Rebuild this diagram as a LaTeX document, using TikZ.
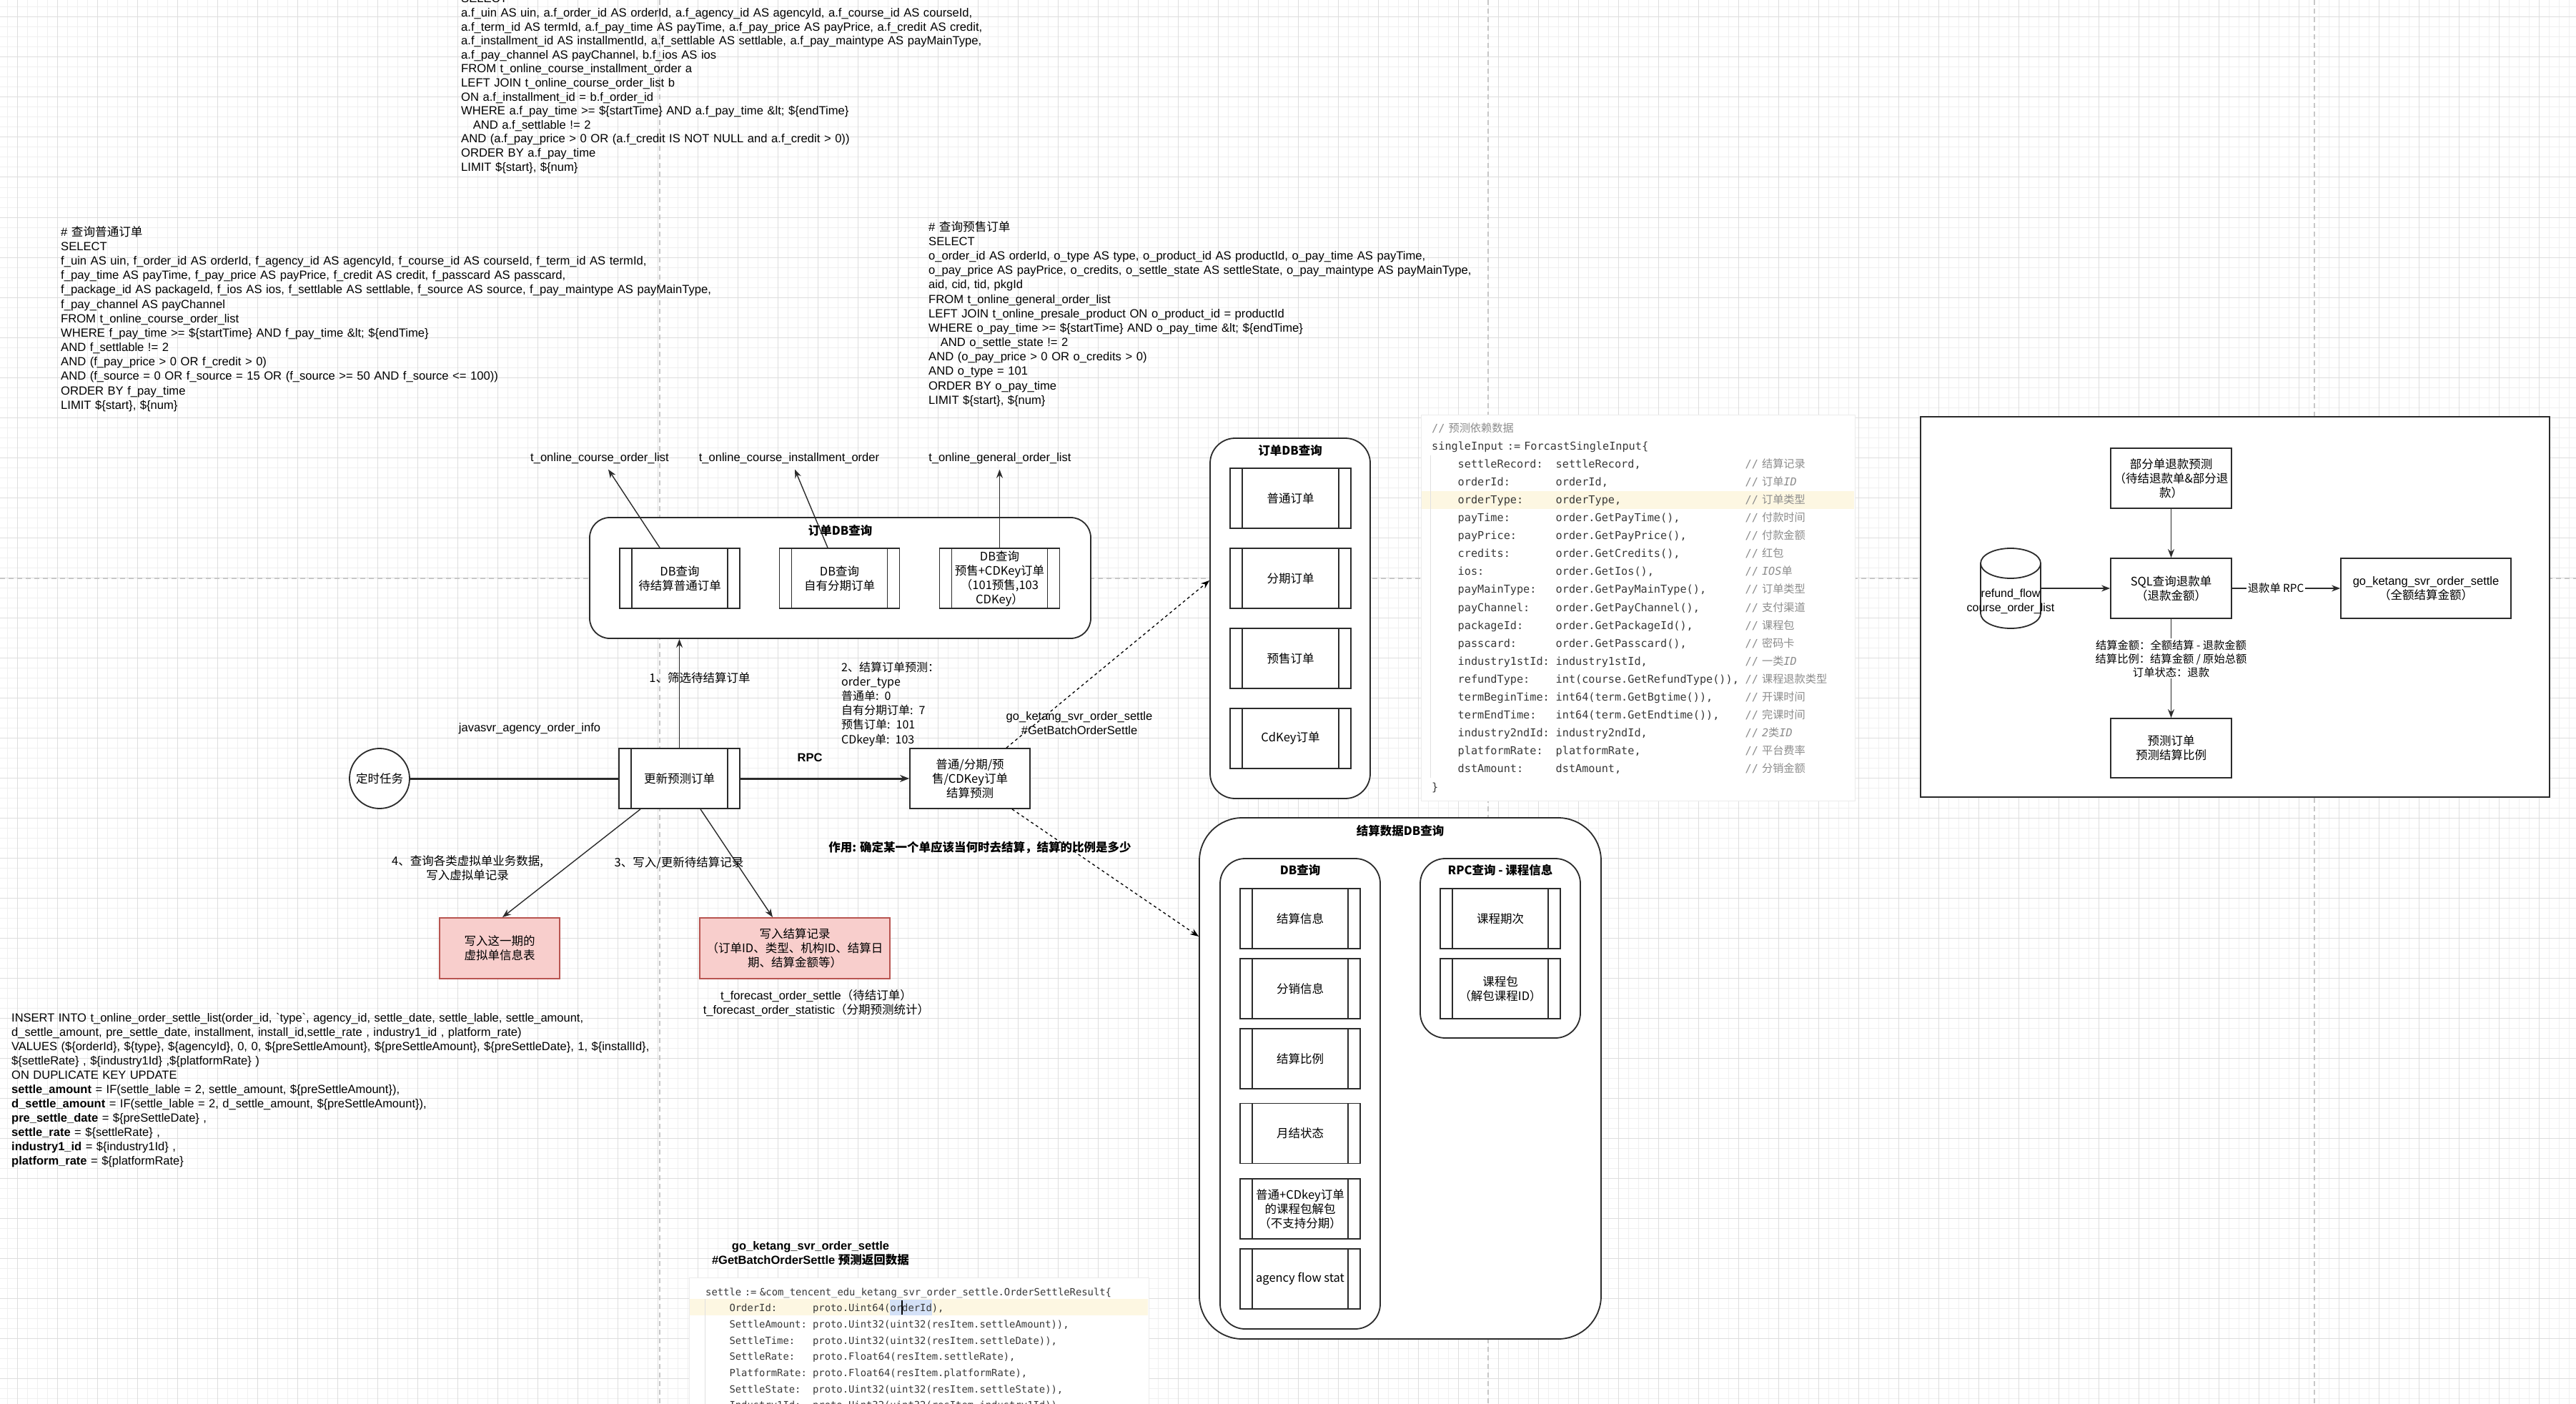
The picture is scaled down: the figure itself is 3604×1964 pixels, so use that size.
\documentclass[tikz,border=0pt]{standalone}
\usepackage{fontspec}
\setmainfont{Liberation Sans}
\setmonofont{DejaVu Sans Mono}
\newfontfamily\cjk{Noto Sans CJK SC}
\usepackage{tikz}
\usetikzlibrary{arrows.meta,positioning,calc}
\definecolor{linec}{HTML}{2B2B2B}
\definecolor{gridmin}{HTML}{F0F0F0}
\definecolor{gridmaj}{HTML}{DEDEDE}
\definecolor{pinkfill}{HTML}{F8CECC}
\definecolor{pinkline}{HTML}{B85450}
\definecolor{codetext}{HTML}{383838}
\definecolor{codecmt}{HTML}{8C8C8C}
\definecolor{codehl}{HTML}{FDF7E2}
\definecolor{codesel}{HTML}{D4E1F7}
\newcommand\zh[1]{{\cjk #1}}
\newcommand\cmt[1]{{\color{codecmt}// #1}}
\newcommand\kvline[3]{\hspace*{36.5pt}\makebox[137pt][l]{#1}\makebox[265pt][l]{#2}\cmt{#3}}
\newcommand\goline[2]{\hspace*{33.3pt}\makebox[116.6pt][l]{#1}#2}
\tikzset{
  gridminor/.style={draw=gridmin, line width=1pt},
  gridmajor/.style={draw=gridmaj, line width=1pt},
  pgbreak/.style={draw=black!22, line width=1.6pt, dash pattern=on 7pt off 5pt},
  zhtxt/.style={font=\cjk\fontsize{16.5}{20}\selectfont, align=center, inner sep=0pt},
  zhbold/.style={font=\cjk\bfseries\fontsize{16.5}{20}\selectfont, align=center, inner sep=0pt},
  lattxt/.style={font=\fontsize{16.5}{20}\selectfont, align=center, inner sep=0pt},
  tblname/.style={lattxt, outer sep=8pt},
  sqlblock/.style={font=\fontsize{16.6}{20.2}\selectfont, text width=1000pt, align=left, inner sep=0pt, anchor=base west},
  zhblock/.style={font=\cjk\fontsize{16}{20.2}\selectfont, text width=300pt, align=left, inner sep=0pt, anchor=base west},
  codeblock/.style={font=\ttfamily\fontsize{15.2}{25.1}\selectfont, text=codetext, text width=640pt, align=left, inner sep=0pt, anchor=base west},
  codebg/.style={fill=white, draw=black!8, line width=1pt},
  boxline/.style={draw=linec, line width=1.8pt},
  plainbox/.style={boxline, fill=white, minimum width=169pt, minimum height=84pt, zhtxt},
  procbox/.style={plainbox, minimum width=168pt,
    path picture={\draw[boxline] ([xshift=17pt]path picture bounding box.north west) -- ([xshift=17pt]path picture bounding box.south west)
      ([xshift=-17pt]path picture bounding box.north east) -- ([xshift=-17pt]path picture bounding box.south east);}},
  pinkbox/.style={plainbox, fill=pinkfill, draw=pinkline},
  groupbox/.style={boxline, fill=white, rounded corners=35pt, inner sep=0pt},
  arr/.style={draw=linec, line width=1.4pt, -{Stealth[length=12pt,width=9pt]}},
  thickln/.style={draw=linec, line width=3pt},
  dasharr/.style={draw=black, line width=1.3pt, dash pattern=on 4pt off 4pt, -{Stealth[length=12pt,width=9pt]}},
  edgelbl/.style={fill=white, inner sep=2pt, font=\cjk\fontsize{15.3}{19}\selectfont, align=center},
}
\begin{document}
\begin{tikzpicture}[x=1pt, y=-1pt]
\fill[white] (0,0) rectangle (3604,1964);
\useasboundingbox (0,0) rectangle (3604,1964);
% grid and page breaks
\foreach \g in {10,24,...,3604} \draw[gridminor] (\g,0) -- (\g,1964);
\foreach \g in {10,24,...,1964} \draw[gridminor] (0,\g) -- (3604,\g);
\foreach \g in {24,80,...,3604} \draw[gridmajor] (\g,0) -- (\g,1964);
\foreach \g in {24,80,...,1964} \draw[gridmajor] (0,\g) -- (3604,\g);
\foreach \g in {923,2082,3238} \draw[pgbreak] (\g,0) -- (\g,1964);
\draw[pgbreak] (0,809) -- (3604,809);

% sql texts
\node[sqlblock, font=\fontsize{16.6}{19.6}\selectfont] (sqlinst) at (645,4) {SELECT\\
a.f\_uin AS uin, a.f\_order\_id AS orderId, a.f\_agency\_id AS agencyId, a.f\_course\_id AS courseId,\\
a.f\_term\_id AS termId, a.f\_pay\_time AS payTime, a.f\_pay\_price AS payPrice, a.f\_credit AS credit,\\
a.f\_installment\_id AS installmentId, a.f\_settlable AS settlable, a.f\_pay\_maintype AS payMainType,\\
a.f\_pay\_channel AS payChannel, b.f\_ios AS ios\\
FROM t\_online\_course\_installment\_order a\\
LEFT JOIN t\_online\_course\_order\_list b\\
ON a.f\_installment\_id = b.f\_order\_id\\
WHERE a.f\_pay\_time >= \$\{startTime\} AND a.f\_pay\_time \&lt; \$\{endTime\}\\
\hspace*{1em}AND a.f\_settlable != 2\\
AND (a.f\_pay\_price > 0 OR (a.f\_credit IS NOT NULL and a.f\_credit > 0))\\
ORDER BY a.f\_pay\_time\\
LIMIT \$\{start\}, \$\{num\}};

\node[sqlblock] (sqlnorm) at (85,330) {\# \zh{查询普通订单}\\
SELECT\\
f\_uin AS uin, f\_order\_id AS orderId, f\_agency\_id AS agencyId, f\_course\_id AS courseId, f\_term\_id AS termId,\\
f\_pay\_time AS payTime, f\_pay\_price AS payPrice, f\_credit AS credit, f\_passcard AS passcard,\\
f\_package\_id AS packageId, f\_ios AS ios, f\_settlable AS settlable, f\_source AS source, f\_pay\_maintype AS payMainType,\\
f\_pay\_channel AS payChannel\\
FROM t\_online\_course\_order\_list\\
WHERE f\_pay\_time >= \$\{startTime\} AND f\_pay\_time \&lt; \$\{endTime\}\\
AND f\_settlable != 2\\
AND (f\_pay\_price > 0 OR f\_credit > 0)\\
AND (f\_source = 0 OR f\_source = 15 OR (f\_source >= 50 AND f\_source <= 100))\\
ORDER BY f\_pay\_time\\
LIMIT \$\{start\}, \$\{num\}};

\node[sqlblock] (sqlpre) at (1299,323) {\# \zh{查询预售订单}\\
SELECT\\
o\_order\_id AS orderId, o\_type AS type, o\_product\_id AS productId, o\_pay\_time AS payTime,\\
o\_pay\_price AS payPrice, o\_credits, o\_settle\_state AS settleState, o\_pay\_maintype AS payMainType,\\
aid, cid, tid, pkgId\\
FROM t\_online\_general\_order\_list\\
LEFT JOIN t\_online\_presale\_product ON o\_product\_id = productId\\
WHERE o\_pay\_time >= \$\{startTime\} AND o\_pay\_time \&lt; \$\{endTime\}\\
\hspace*{1em}AND o\_settle\_state != 2\\
AND (o\_pay\_price > 0 OR o\_credits > 0)\\
AND o\_type = 101\\
ORDER BY o\_pay\_time\\
LIMIT \$\{start\}, \$\{num\}};

\node[sqlblock, font=\fontsize{16.5}{20.05}\selectfont] (sqlins) at (16,1429) {INSERT INTO t\_online\_order\_settle\_list(order\_id, \textasciigrave type\textasciigrave, agency\_id, settle\_date, settle\_lable, settle\_amount,\\
d\_settle\_amount, pre\_settle\_date, installment, install\_id,settle\_rate , industry1\_id , platform\_rate)\\
VALUES (\$\{orderId\}, \$\{type\}, \$\{agencyId\}, 0, 0, \$\{preSettleAmount\}, \$\{preSettleAmount\}, \$\{preSettleDate\}, 1, \$\{installId\},\\
\$\{settleRate\} , \$\{industry1Id\} ,\$\{platformRate\} )\\
ON DUPLICATE KEY UPDATE\\
\textbf{settle\_amount} = IF(settle\_lable = 2, settle\_amount, \$\{preSettleAmount\}),\\
\textbf{d\_settle\_amount} = IF(settle\_lable = 2, d\_settle\_amount, \$\{preSettleAmount\}),\\
\textbf{pre\_settle\_date} = \$\{preSettleDate\} ,\\
\textbf{settle\_rate} = \$\{settleRate\} ,\\
\textbf{industry1\_id} = \$\{industry1Id\} ,\\
\textbf{platform\_rate} = \$\{platformRate\}};

% code snippets
\draw[codebg] (1988,580) rectangle (2595,1120);
\fill[codehl] (1989,687) rectangle (2594,712);
\draw[black!12, line width=1pt] (2001,637) -- (2001,1088);
\node[codeblock] (fcin) at (2003,604) {\cmt{\zh{预测依赖数据}}\\
singleInput := ForcastSingleInput\{\\
\kvline{settleRecord:}{settleRecord,}{\zh{结算记录}}\\
\kvline{orderId:}{orderId,}{\zh{订单}\textit{ID}}\\
\kvline{orderType:}{orderType,}{\zh{订单类型}}\\
\kvline{payTime:}{order.GetPayTime(),}{\zh{付款时间}}\\
\kvline{payPrice:}{order.GetPayPrice(),}{\zh{付款金额}}\\
\kvline{credits:}{order.GetCredits(),}{\zh{红包}}\\
\kvline{ios:}{order.GetIos(),}{\textit{IOS}\zh{单}}\\
\kvline{payMainType:}{order.GetPayMainType(),}{\zh{订单类型}}\\
\kvline{payChannel:}{order.GetPayChannel(),}{\zh{支付渠道}}\\
\kvline{packageId:}{order.GetPackageId(),}{\zh{课程包}}\\
\kvline{passcard:}{order.GetPasscard(),}{\zh{密码卡}}\\
\kvline{industry1stId:}{industry1stId,}{\zh{一类}\textit{ID}}\\
\kvline{refundType:}{int(course.GetRefundType()),}{\zh{课程退款类型}}\\
\kvline{termBeginTime:}{int64(term.GetBgtime()),}{\zh{开课时间}}\\
\kvline{termEndTime:}{int64(term.GetEndtime()),}{\zh{完课时间}}\\
\kvline{industry2ndId:}{industry2ndId,}{\textit{2}\zh{类}\textit{ID}}\\
\kvline{platformRate:}{platformRate,}{\zh{平台费率}}\\
\kvline{dstAmount:}{dstAmount,}{\zh{分销金额}}\\
\}};

\draw[codebg] (964,1787) rectangle (1607,1975);
\fill[codehl] (965,1817) rectangle (1606,1840);
\fill[codesel] (1245,1818) rectangle (1304,1840);
\draw[black!12, line width=1pt] (986,1817) -- (986,1964);
\node[codeblock, font=\ttfamily\fontsize{13.85}{22.7}\selectfont] (setres) at (987,1812) {settle := \&com\_tencent\_edu\_ketang\_svr\_order\_settle.OrderSettleResult\{\\
\goline{OrderId:}{proto.Uint64(orderId),}\\
\goline{SettleAmount:}{proto.Uint32(uint32(resItem.settleAmount)),}\\
\goline{SettleTime:}{proto.Uint32(uint32(resItem.settleDate)),}\\
\goline{SettleRate:}{proto.Float64(resItem.settleRate),}\\
\goline{PlatformRate:}{proto.Float64(resItem.platformRate),}\\
\goline{SettleState:}{proto.Uint32(uint32(resItem.settleState)),}\\
\goline{Industry1Id:}{proto.Uint32(uint32(resItem.industry1Id)),}};
\draw[line width=1.2pt] (1262,1819) -- (1262,1839);
\node[lattxt, font=\bfseries\fontsize{16.5}{20}\selectfont] (restitle) at (1134,1753) {go\_ketang\_svr\_order\_settle\\\#GetBatchOrderSettle \zh{预测返回数据}};

% order db query
\node[groupbox, rounded corners=28pt, minimum width=701pt, minimum height=169pt] (dbbox) at (1175.5,808.5) {};
\node[zhbold, below=11pt of dbbox.north] (dbtitle) {订单DB查询};
\node[procbox] (qry1) at (951,809) {DB查询\\待结算普通订单};
\node[procbox] (qry2) at (1174.5,809) {DB查询\\自有分期订单};
\node[procbox] (qry3) at (1398.5,809) {DB查询\\预售+CDKey订单\\（101预售,103\\CDKey）};
\node[tblname] (tab1) at (839,641) {t\_online\_course\_order\_list};
\node[tblname] (tab2) at (1104,641) {t\_online\_course\_installment\_order};
\node[tblname] (tab3) at (1399,641) {t\_online\_general\_order\_list};
\draw[arr] ([xshift=-28pt]qry1.north) -- ([xshift=12pt]tab1.south);
\draw[arr] ([xshift=-16.5pt]qry2.north) -- ([xshift=8pt]tab2.south);
\draw[arr] (qry3.north) -- (qry3.north |- tab3.south);

% main flow
\node[circle, boxline, fill=white, minimum size=84pt, zhtxt] (timer) at (531,1089) {定时任务};
\node[procbox, minimum width=169pt] (upd) at (950.5,1089) {更新预测订单};
\node[plainbox, minimum width=168pt] (pred) at (1357,1089) {普通/分期/预\\售/CDKey订单\\结算预测};
\node[pinkbox, minimum width=168pt, minimum height=85pt] (pink1) at (699,1326.5) {写入这一期的\\虚拟单信息表};
\node[pinkbox, minimum width=266pt, minimum height=85pt] (pink2) at (1112,1326.5) {写入结算记录\\（订单ID、类型、机构ID、结算日\\期、结算金额等）};
\draw[thickln] (timer) -- (upd);
\draw[thickln, -{Stealth[length=13pt,width=10pt]}] (upd) -- (pred);
\draw[arr] (upd.north) -- (upd.north |- dbbox.south);
\draw[arr] ([xshift=-54.5pt]upd.south) -- ([xshift=4pt]pink1.north);
\draw[arr] ([xshift=29.5pt]upd.south) -- ([xshift=-31pt]pink2.north);

\node[zhtxt] (step1) at (979,948) {1、筛选待结算订单};
\node[zhblock] (step2) at (1177,939) {2、结算订单预测：\\order\_type\\普通单: 0\\自有分期订单: 7\\预售订单: 101\\CDkey单: 103};
\node[lattxt] (java) at (741,1019) {javasvr\_agency\_order\_info};
\node[lattxt, font=\bfseries\fontsize{16.5}{20}\selectfont] (rpc) at (1133,1060) {RPC};
\node[zhtxt] (step4) at (654,1214.5) {4、查询各类虚拟单业务数据,\\写入虚拟单记录};
\node[zhtxt] (step3) at (950,1207) {3、写入/更新待结算记录};
\node[lattxt] (tfc) at (1142,1403) {t\_forecast\_order\_settle\zh{（待结订单）}\\t\_forecast\_order\_statistic\zh{（分期预测统计）}};
\node[lattxt] (gocall) at (1510,1012) {go\_ketang\_svr\_order\_settle\\\#GetBatchOrderSettle};
\node[zhbold] (role) at (1371,1186) {作用: 确定某一个单应该当何时去结算，结算的比例是多少};

% order db column
\node[groupbox, minimum width=224pt, minimum height=504pt] (ordbox) at (1805,865) {};
\node[zhbold, below=10pt of ordbox.north] (ordtitle) {订单DB查询};
\foreach \nm/\yy/\tx in {o1/697/普通订单, o2/809/分期订单, o3/921/预售订单, o4/1033/CdKey订单}
  \node[procbox, minimum width=169pt] (\nm) at (1805.5,\yy) {\tx};

% settle data query
\node[groupbox, rounded corners=60pt, minimum width=562pt, minimum height=729pt] (setbox) at (1959,1508.5) {};
\node[zhbold, below=11pt of setbox.north] (settitle) {结算数据DB查询};
\node[groupbox, minimum width=224pt, minimum height=658pt] (dbq) at (1819,1530) {};
\node[zhbold, below=9pt of dbq.north] (dbqtitle) {DB查询};
\node[groupbox, minimum width=224pt, minimum height=251pt] (rpcq) at (2099,1326.5) {};
\node[zhbold, below=9pt of rpcq.north] (rpctitle) {RPC查询 - 课程信息};
\node[procbox] (s1) at (1819,1285) {结算信息};
\node[procbox] (s2) at (1819,1383) {分销信息};
\node[procbox] (s3) at (1819,1481) {结算比例};
\node[procbox] (s4) at (1819,1585.5) {月结状态};
\node[procbox] (s5) at (1819,1691) {普通+CDkey订单\\的课程包解包\\（不支持分期）};
\node[procbox] (s6) at (1819,1789) {agency flow stat};
\node[procbox] (r1) at (2099,1285) {课程期次};
\node[procbox] (r2) at (2099,1383) {课程包\\（解包课程ID）};
\draw[dasharr] ([xshift=51pt]pred.north) -- ([yshift=53pt]ordbox.west);
\draw[dasharr] ([xshift=59pt]pred.south) -- ([yshift=198.5pt]setbox.west);

% refund forecast
\node[boxline, fill=white, minimum width=880pt, minimum height=532pt, inner sep=0pt] (rbox) at (3127,849) {};
\node[plainbox] (part) at (3037.5,669) {部分单退款预测\\（待结退款单\&部分退\\款）};
\node[plainbox] (sqlq) at (3037.5,823) {SQL查询退款单\\（退款金额）};
\node[plainbox, minimum width=238pt] (gosvc) at (3394,823) {{\rmfamily go\_ketang\_svr\_order\_settle}\\（全额结算金额）};
\node[plainbox, minimum height=83pt] (predo) at (3037.5,1046.5) {预测订单\\预测结算比例};
\node[minimum width=84pt, minimum height=112pt, inner sep=0pt] (cyl) at (2813,823) {};
\draw[boxline, fill=white] (2771,788) -- (2771,858) arc[start angle=180, end angle=360, x radius=42pt, y radius=21pt] -- (2855,788) arc[start angle=0, end angle=180, x radius=42pt, y radius=21pt] -- cycle;
\draw[boxline] (2771,788) arc[start angle=180, end angle=360, x radius=42pt, y radius=21pt];
\node[lattxt, font=\fontsize{16}{20}\selectfont] (cyltxt) at (2813,841) {refund\_flow\\course\_order\_list};
\draw[arr] (part) -- (sqlq);
\draw[arr] (cyl) -- (sqlq);
\draw[arr] (sqlq) -- node[edgelbl, pos=0.405] (rpclbl) {退款单 RPC} (gosvc);
\draw[arr] (sqlq) -- node[edgelbl, pos=0.4] (ratelbl) {结算金额：全额结算 - 退款金额\\结算比例：结算金额 / 原始总额\\订单状态：退款} (predo);
\end{tikzpicture}
\end{document}
